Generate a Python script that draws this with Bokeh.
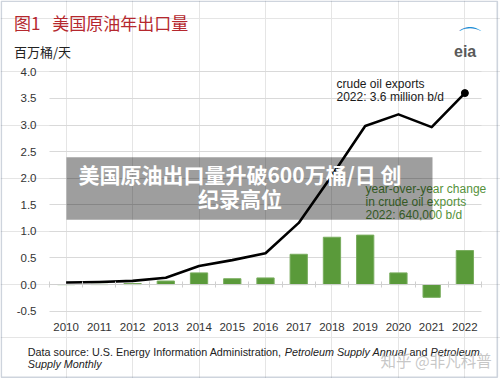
from bokeh.plotting import figure
from bokeh.models import (Range1d, FixedTicker, PrintfTickFormatter, LinearAxis,
                          Label, BoxAnnotation, Grid)
from bokeh.embed import file_html
from bokeh.resources import INLINE

# ---------------- data ----------------
years = [2010, 2011, 2012, 2013, 2014, 2015, 2016, 2017, 2018, 2019, 2020, 2021, 2022]
exports = [0.04, 0.05, 0.07, 0.13, 0.35, 0.46, 0.59, 1.16, 2.05, 2.98, 3.20, 2.96, 3.60]
changes = [0.0, 0.005, 0.02, 0.067, 0.22, 0.11, 0.125, 0.57, 0.89, 0.93, 0.22, -0.24, 0.64]
y_ticks = [-0.5, 0.0, 0.5, 1.0, 1.5, 2.0, 2.5, 3.0, 3.5, 4.0]

title_fig = "图1"
title_text = "美国原油年出口量"
unit_text = "百万桶/天"
export_note = ["crude oil exports", "2022: 3.6 million b/d"]
change_note = ["year-over-year change", "in crude oil exports", "2022: 640,000 b/d"]
overlay_text = ["美国原油出口量升破600万桶/日 创", "纪录高位"]
watermark = "知乎 @非凡科普"

# ---------------- layout ----------------
W, H = 500, 378
PX_L, PX_R = 49, 481       # plot-area edges (px)
PX_T, PX_B = 66, 316
XA, XB = years[0] - 0.5, years[-1] + 0.5
YA, YB = -0.6, 4.1


def dx(rx):
    return XA + (rx - PX_L) * (XB - XA) / (PX_R - PX_L)


def dy(ry):
    return YB - (ry - PX_T) * (YB - YA) / (PX_B - PX_T)


FONT = "Liberation Sans"
CJK = "Noto Sans CJK SC"
GREEN = "#5a9a3a"

p = figure(width=W, height=H, x_range=Range1d(dx(0), dx(W)), y_range=Range1d(dy(H), dy(0)),
           output_backend="svg", toolbar_location=None, title=None,
           x_axis_location=None, y_axis_location=None,
           min_border=0, min_border_left=0, min_border_right=0,
           min_border_top=0, min_border_bottom=0,
           background_fill_color="white", border_fill_color="white",
           outline_line_color=None)

# grid limited to the plot area
p.add_layout(Grid(dimension=1, ticker=FixedTicker(ticks=y_ticks), cross_bounds=(XA, XB),
                  grid_line_color="#d9d9d9", grid_line_width=1))

# y axis (fixed at plot-area left edge)
ya = LinearAxis(fixed_location=XA, ticker=FixedTicker(ticks=y_ticks),
                formatter=PrintfTickFormatter(format="%.1f"),
                axis_line_color=None, major_tick_line_color=None, minor_tick_line_color=None,
                major_label_standoff=7, major_label_text_font=FONT,
                major_label_text_font_size="11.5px", major_label_text_color="#333333")
p.add_layout(ya, "left")

# x axis labels (fixed at plot-area bottom)
xa = LinearAxis(fixed_location=YA, ticker=FixedTicker(ticks=years),
                axis_line_color=None, major_tick_line_color=None, minor_tick_line_color=None,
                major_label_standoff=0, major_label_text_font=FONT,
                major_label_text_font_size="11.5px", major_label_text_color="#333333")
p.add_layout(xa, "below")

# zero-line axis with category-boundary ticks
bounds = [years[0] - 0.5] + [y + 0.5 for y in years]
zero_axis = LinearAxis(ticker=FixedTicker(ticks=bounds), fixed_location=0, bounds=(XA, XB),
                       axis_line_color="#cfcfcf", major_tick_line_color="#cfcfcf",
                       major_tick_in=3, major_tick_out=3, minor_tick_line_color=None,
                       major_label_text_color=None, major_label_text_font_size="1px",
                       major_label_standoff=0)
p.add_layout(zero_axis, "below")

# bars and line
p.vbar(x=years, top=changes, bottom=0, width=0.52, fill_color=GREEN,
       line_color="#79ad5e", line_width=1)
p.line(years, exports, line_color="black", line_width=2.6, line_join="round")
p.scatter([years[-1]], [exports[-1]], size=7, color="black")

# annotation texts
for i, t in enumerate(export_note):
    p.add_layout(Label(x=dx(336), y=dy(83.5 + 12.7 * i), text=t, text_font=FONT,
                       text_font_size="12px", text_color="#1a1a1a",
                       text_baseline="alphabetic"))
for i, t in enumerate(change_note):
    p.add_layout(Label(x=dx(365), y=dy(188.5 + 12.8 * i), text=t, text_font=FONT,
                       text_font_size="12px", text_color="#55913a",
                       text_baseline="alphabetic"))

# grey overlay banner
p.add_layout(BoxAnnotation(left=dx(66), right=dx(432), top=dy(156.7), bottom=dy(219.3),
                           fill_color="black", fill_alpha=0.38, line_color=None))
for i, t in enumerate(overlay_text):
    p.add_layout(Label(x=dx(239.5), y=dy(173.3 + 24.5 * i), text=t, text_font=CJK,
                       text_font_size="21px", text_font_style="bold", text_color="white",
                       text_align="center", text_baseline="middle"))

# titles
p.add_layout(Label(x=dx(13.5), y=dy(22.3), text=title_fig, text_font=CJK,
                   text_font_size="17px", text_color="#b5282e", text_baseline="middle"))
p.add_layout(Label(x=dx(51.7), y=dy(22.3), text=title_text, text_font=CJK,
                   text_font_size="17px", text_color="#b5282e", text_baseline="middle"))
p.add_layout(Label(x=dx(13.5), y=dy(51.3), text=unit_text, text_font=CJK,
                   text_font_size="13px", text_color="#222222", text_baseline="middle"))

# eia logo
p.add_layout(Label(x=dx(469), y=dy(38), text="⌒", text_font="DejaVu Sans",
                   text_font_size="26px", text_color="#1e8fd6", text_align="center",
                   text_baseline="middle"))
p.add_layout(Label(x=dx(453.5), y=dy(50.5), text="eia", text_font=FONT,
                   text_font_size="16px", text_font_style="bold", text_color="#5a5a5a",
                   text_baseline="alphabetic"))

# data source (runs laid out along the line)
SRC_FS = 10.8
src_runs = [
    (27.3, 351, "Data source: U.S. Energy Information Administration,", "normal"),
    (284.2, 351, "Petroleum Supply Annual", "italic"),
    (409.0, 351, "and", "normal"),
    (430.0, 351, "Petroleum", "italic"),
    (27.3, 363.5, "Supply Monthly", "italic"),
]
for rx, ry, t, st in src_runs:
    p.add_layout(Label(x=dx(rx), y=dy(ry), text=t, text_font=FONT,
                       text_font_size=f"{SRC_FS}px",
                       text_font_style=st, text_color="#222222",
                       text_baseline="alphabetic"))

p.add_layout(Label(x=dx(380), y=dy(359.5), text=watermark, text_font=CJK,
                   text_font_size="15.5px", text_color="#bdbdbd", text_alpha=0.85,
                   text_baseline="middle"))

# outer frame
p.add_layout(BoxAnnotation(left=dx(0.8), right=dx(496.8), top=dy(0.8), bottom=dy(376.8),
                           fill_color=None, line_color="#5d7090", line_width=1.6))

open("out.html", "w").write(file_html(p, INLINE))
